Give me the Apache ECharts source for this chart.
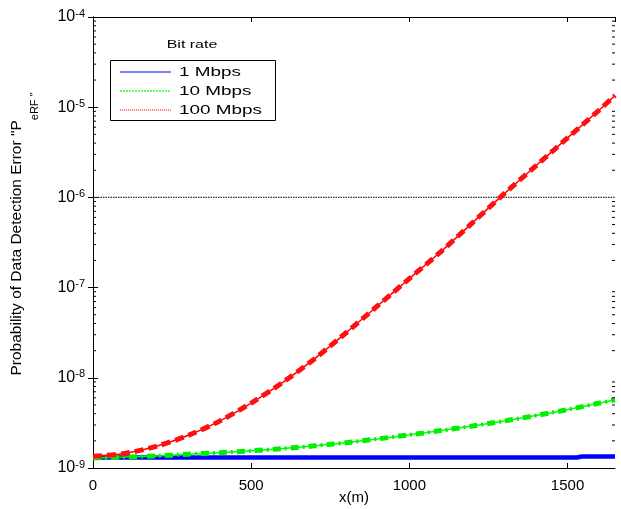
<!DOCTYPE html>
<html>
<head>
<meta charset="utf-8">
<script src="https://cdn.jsdelivr.net/npm/echarts@6/dist/echarts.min.js"></script>
<style>
  html, body { margin: 0; padding: 0; background: #fff; }
  #chart { width: 621px; height: 509px; }
</style>
</head>
<body>
<div id="chart"></div>
<script>
// Distance along the link, metres
const distance = [0, 100, 200, 300, 400, 500, 600, 700, 800, 900, 1000, 1100, 1200, 1300, 1400, 1500, 1600, 1650];

// Probability of data detection error for each bit rate
const err10Mbps = [1.29e-9, 1.32e-9, 1.36e-9, 1.42e-9, 1.48e-9, 1.55e-9, 1.64e-9, 1.76e-9, 1.91e-9, 2.1e-9, 2.33e-9, 2.6e-9, 2.92e-9, 3.32e-9, 3.81e-9, 4.44e-9, 5.24e-9, 5.71e-9];
const err100Mbps = [1.35e-9, 1.45e-9, 1.74e-9, 2.29e-9, 3.31e-9, 5.25e-9, 8.9e-9, 1.62e-8, 3.16e-8, 6.3e-8, 1.26e-7, 2.51e-7, 5.25e-7, 1.1e-6, 2.24e-6, 4.57e-6, 9.3e-6, 1.35e-5];

// 1 Mbps stays almost flat, with a small step near the end
const distance1Mbps = [0, 500, 1000, 1530, 1545, 1650];
const err1Mbps = [1.31e-9, 1.31e-9, 1.31e-9, 1.31e-9, 1.34e-9, 1.34e-9];

// Target error level drawn as a horizontal reference
const thresholdLevel = 1e-6;

const legendNames = ['1 Mbps', '10 Mbps', '100 Mbps'];
const xMin = 0, xMax = 1650, xStep = 500;
const yMin = 1e-9, yMax = 1e-4;

// Minor log ticks (2..9 x 10^n)
const minorTicks = [];
for (let e = -9; e < -4; e++) {
  for (let m = 2; m <= 9; m++) minorTicks.push(m * Math.pow(10, e));
}

const pair = (xs, ys) => xs.map((x, i) => [x, ys[i]]);

const chart = echarts.init(document.getElementById('chart'), null, { renderer: 'canvas' });

const font = '"Liberation Sans", Arial, Helvetica, sans-serif';
const supLabel = {
  b: { fontSize: 16, fontFamily: font, color: '#000', lineHeight: 18 },
  e: { fontSize: 11, fontFamily: font, color: '#000', verticalAlign: 'top', lineHeight: 12, padding: [0, 0, 14, 0] }
};

const yAxisBase = {
  type: 'log',
  logBase: 10,
  min: yMin,
  max: yMax,
  splitLine: { show: false },
  axisLine: { show: true, lineStyle: { color: '#000', width: 1 } },
  axisTick: { show: true, inside: true, length: 5, lineStyle: { color: '#000' } },
  minorTick: { show: false }
};

const xAxisBase = {
  type: 'value',
  min: xMin,
  max: xMax,
  interval: xStep,
  splitLine: { show: false },
  axisLine: { show: true, onZero: false, lineStyle: { color: '#000', width: 1 } },
  axisTick: { show: true, inside: true, length: 5, lineStyle: { color: '#000' } }
};

const option = {
  animation: false,
  backgroundColor: '#fff',
  grid: { left: 93, right: 6, top: 17, bottom: 41, containLabel: false, outerBoundsMode: 'none' },
  xAxis: [
    Object.assign({}, xAxisBase, {
      position: 'bottom',
      name: 'x(m)',
      nameLocation: 'middle',
      nameGap: 22,
      nameMoveOverlap: false,
      nameTextStyle: { fontSize: 15, fontFamily: font, color: '#000' },
      axisLabel: {
        show: true, margin: 10, fontSize: 15, fontFamily: font, color: '#000',
        showMaxLabel: false,
        formatter: v => String(v)
      }
    }),
    Object.assign({}, xAxisBase, { position: 'top', axisLabel: { show: false } })
  ],
  yAxis: [
    Object.assign({}, yAxisBase, {
      position: 'left',
      axisLabel: {
        show: true,
        margin: 8,
        formatter: v => '{b|10}{e|' + Math.round(Math.log10(v)) + '}',
        rich: supLabel
      }
    }),
    Object.assign({}, yAxisBase, { position: 'right', axisLabel: { show: false } })
  ],
  series: [
    {
      name: legendNames[0],
      type: 'line',
      data: pair(distance1Mbps, err1Mbps),
      showSymbol: false,
      symbol: 'none',
      lineStyle: { color: '#0000ff', width: 4.5 },
      z: 3
    },
    // 10 Mbps: thin guide line, thick dashes and small cross-dots
    {
      name: legendNames[1],
      type: 'line',
      data: pair(distance, err10Mbps),
      smooth: 0.3,
      symbol: 'none',
      lineStyle: { color: '#00ff00', width: 1.5 },
      z: 4
    },
    {
      type: 'line',
      data: pair(distance, err10Mbps),
      smooth: 0.3,
      symbol: 'none',
      lineStyle: { color: '#00ee00', width: 5, type: [8, 10], cap: 'butt' },
      z: 4
    },
    {
      type: 'line',
      data: pair(distance, err10Mbps),
      smooth: 0.3,
      symbol: 'none',
      lineStyle: { color: '#00ee00', width: 4, type: [2, 16], dashOffset: -12, cap: 'butt' },
      z: 4
    },
    // 100 Mbps: thin guide line with thick dashes
    {
      name: legendNames[2],
      type: 'line',
      data: pair(distance, err100Mbps),
      smooth: 0.3,
      symbol: 'none',
      lineStyle: { color: '#ff0000', width: 1.5 },
      z: 5
    },
    {
      type: 'line',
      data: pair(distance, err100Mbps),
      smooth: 0.3,
      symbol: 'none',
      lineStyle: { color: '#ff1010', width: 5, type: [9, 5], cap: 'butt' },
      z: 5
    },
    // horizontal reference at the target error level
    {
      type: 'line',
      data: [[xMin, thresholdLevel], [xMax, thresholdLevel]],
      symbol: 'none',
      lineStyle: { color: '#333', width: 1.3, type: [1.5, 1] },
      z: 2
    },
    // minor log ticks on both vertical edges
    {
      type: 'custom',
      data: minorTicks.map(v => [xMin, v]),
      encode: { x: 0, y: 1 },
      clip: false,
      silent: true,
      z: 6,
      renderItem: (params, api) => {
        const v = api.value(1);
        const l = api.coord([xMin, v]);
        const r = api.coord([xMax, v]);
        return {
          type: 'group',
          children: [
            { type: 'line', shape: { x1: l[0], y1: l[1], x2: l[0] + 3, y2: l[1] }, style: { stroke: '#000', lineWidth: 1 } },
            { type: 'line', shape: { x1: r[0] - 3, y1: r[1], x2: r[0], y2: r[1] }, style: { stroke: '#000', lineWidth: 1 } }
          ]
        };
      }
    }
  ],
  graphic: [
    // y-axis title with subscript
    {
      type: 'text',
      x: 9,
      y: 234,
      rotation: Math.PI / 2,
      z: 10,
      style: {
        text: '{m|Probability of Data Detection Error "P}{s|eRF "}',
        align: 'center',
        verticalAlign: 'top',
        rich: {
          m: { fontSize: 15.5, fontFamily: font, fill: '#000', lineHeight: 18, verticalAlign: 'top' },
          s: { fontSize: 11, fontFamily: font, fill: '#000', lineHeight: 31, verticalAlign: 'bottom' }
        }
      }
    },
    // legend
    {
      type: 'text', x: 192, y: 45, scaleX: 1.45, z: 20,
      style: { text: 'Bit rate', fontSize: 11, fontFamily: font, fill: '#000', align: 'center', verticalAlign: 'middle' }
    },
    {
      type: 'rect', z: 20,
      shape: { x: 110.5, y: 60.5, width: 165, height: 60 },
      style: { fill: '#fff', stroke: '#000', lineWidth: 1 }
    },
    { type: 'line', z: 21, shape: { x1: 120, y1: 72, x2: 171, y2: 72 }, style: { stroke: '#0000ff', lineWidth: 1 } },
    { type: 'line', z: 21, shape: { x1: 120, y1: 91, x2: 171, y2: 91 }, style: { stroke: '#33ff33', lineWidth: 1.5, lineDash: [2, 1] } },
    { type: 'line', z: 21, shape: { x1: 120, y1: 110, x2: 171, y2: 110 }, style: { stroke: '#ff0000', lineWidth: 1, lineDash: [1, 1] } },
    { type: 'text', x: 179, y: 72, scaleX: 1.4, z: 21, style: { text: legendNames[0], fontSize: 13.5, fontFamily: font, fill: '#000', verticalAlign: 'middle' } },
    { type: 'text', x: 179, y: 91, scaleX: 1.4, z: 21, style: { text: legendNames[1], fontSize: 13.5, fontFamily: font, fill: '#000', verticalAlign: 'middle' } },
    { type: 'text', x: 179, y: 110, scaleX: 1.4, z: 21, style: { text: legendNames[2], fontSize: 13.5, fontFamily: font, fill: '#000', verticalAlign: 'middle' } }
  ]
};

chart.setOption(option);
</script>
</body>
</html>
